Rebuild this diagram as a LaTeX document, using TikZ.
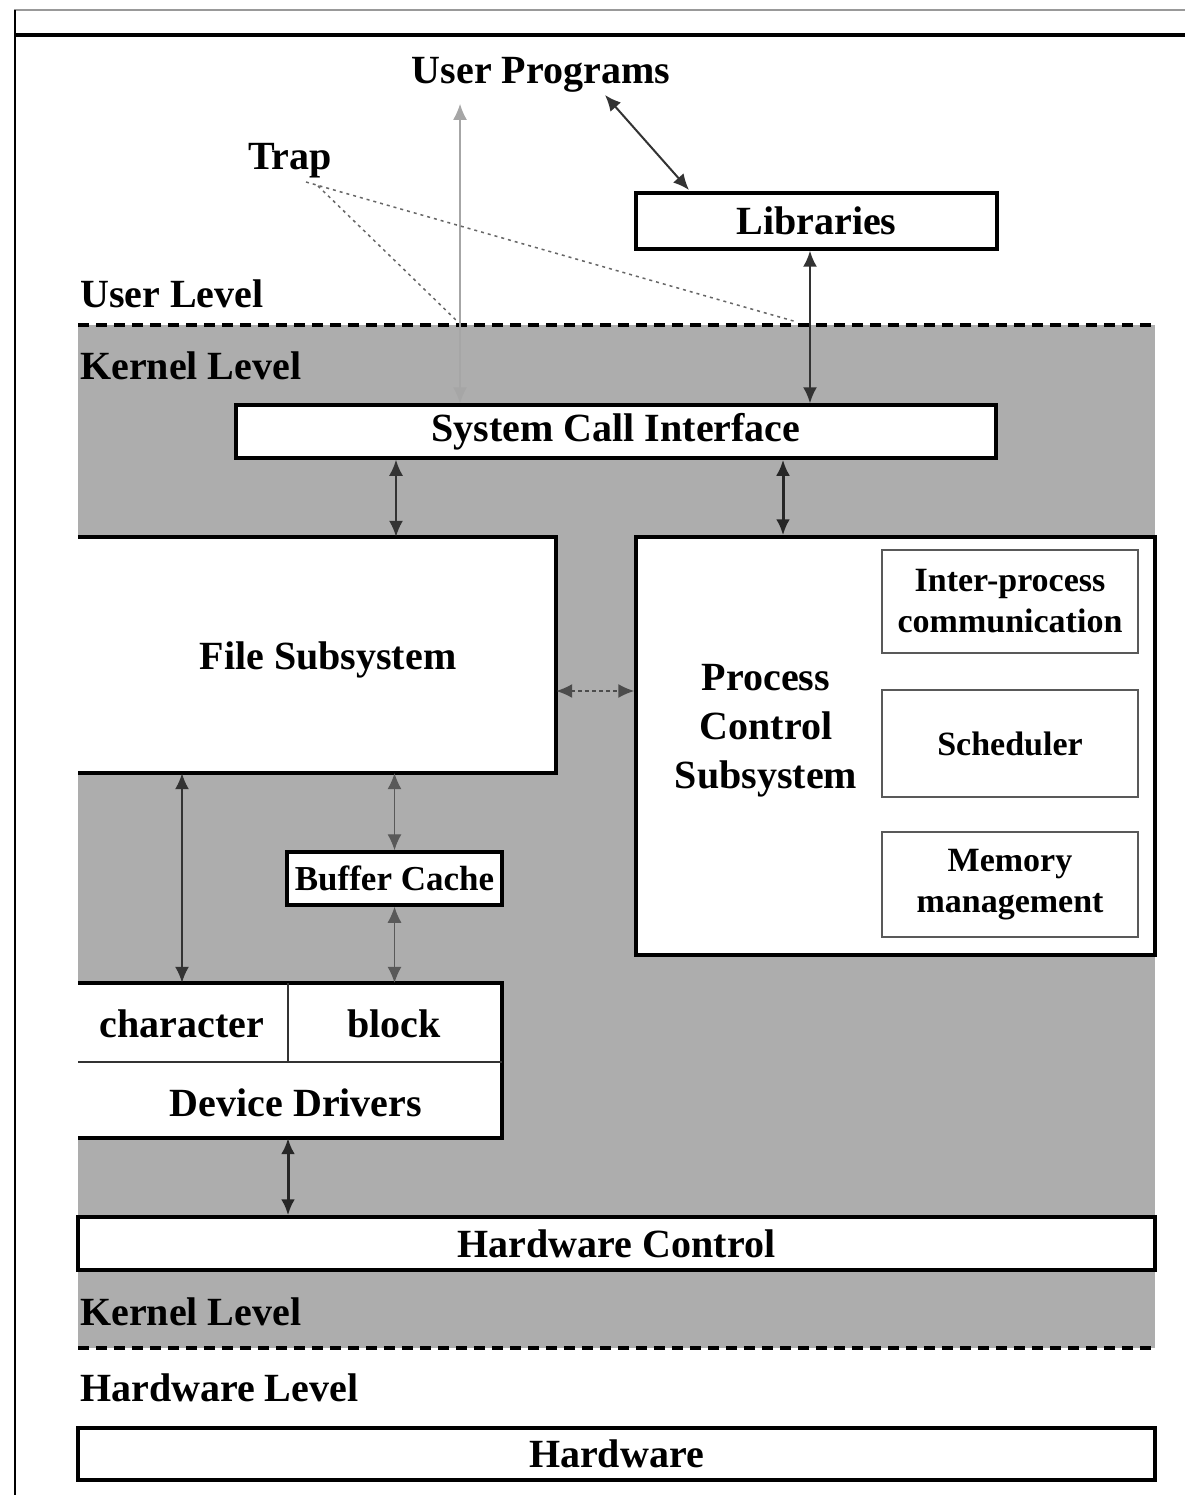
\documentclass[tikz,border=0pt]{standalone}
\usepackage{fontspec}
\setmainfont{Liberation Serif}
\usetikzlibrary{arrows.meta}
\definecolor{kgray}{gray}{0.68}
\tikzset{
  box/.style={draw=black, fill=white, line width=3.5pt, inner sep=0pt, font=\bfseries\fontsize{40}{46}\selectfont},
  openbox/.style={fill=white, inner sep=0pt, font=\bfseries\fontsize{40}{46}\selectfont},
  inbox/.style={draw=black!65, fill=white, line width=2pt, inner sep=0pt, align=center, font=\bfseries\fontsize{34}{41}\selectfont},
  lbl/.style={inner sep=0pt, font=\bfseries\fontsize{40}{46}\selectfont},
  tip/.style={{Latex[length=16pt,width=14pt]}-{Latex[length=16pt,width=14pt]}},
  conn/.style={tip, line width=2pt, black!80},
  thickconn/.style={tip, line width=3pt, black!85},
  thinconn/.style={tip, line width=1.2pt, black!65},
  levelline/.style={line width=3.5pt, dash pattern=on 11pt off 7pt},
  trapline/.style={line width=1.5pt, black!60, dash pattern=on 3pt off 4pt}
}
\begin{document}
\begin{tikzpicture}[x=1pt,y=-1pt]
\useasboundingbox (0,0) rectangle (1185,1495);
% frame lines
\draw[black!40, line width=1.2pt] (14,10) -- (1185,10);
\draw[line width=4pt] (14,35) -- (1185,35);
\draw[line width=2pt] (15,10) -- (15,1495);
% kernel area
\fill[kgray] (78,325) rectangle (1155,1348);
\draw[levelline] (78,325) -- (1155,325);
\draw[levelline] (78,1348) -- (1155,1348);
% labels
\node[lbl] (up) at (541,75) {User Programs};
\node[lbl] (trap) at (290,161) {Trap};
\node[lbl, anchor=west] (ul) at (80,294) {User Level};
\node[lbl, anchor=west] (kl1) at (80,366) {Kernel Level};
\node[lbl, anchor=west] (kl2) at (80,1312) {Kernel Level};
\node[lbl, anchor=west] (hl) at (80,1388) {Hardware Level};
% boxes
\node[box, minimum width=361pt, minimum height=56pt] (lib) at (816.5,221) {Libraries};
\node[box, minimum width=760pt, minimum height=53pt] (sci) at (616,431.5) {System Call Interface};
\node[openbox, minimum width=478pt, minimum height=236pt] (fs) at (317,655) {};
\node[lbl] (fst) at (328,660) {File Subsystem};
\draw[line width=3.5pt] (fs.north west) -- (fs.north east) -- (fs.south east) -- (fs.south west);
\node[box, minimum width=519pt, minimum height=418pt] (pcs) at (895.5,746) {};
\node[lbl, align=center, font=\bfseries\fontsize{40}{49}\selectfont] (pct) at (766,731) {Process\\Control\\Subsystem};
\node[inbox, minimum width=256pt, minimum height=103pt] (ipc) at (1010,601.5) {Inter-process\\communication};
\node[inbox, minimum width=256pt, minimum height=107pt] (sch) at (1010,743.5) {Scheduler};
\node[inbox, minimum width=256pt, minimum height=105pt] (mem) at (1010,884.5) {Memory\\management};
\node[box, minimum width=215pt, minimum height=53pt, font=\bfseries\fontsize{35}{40}\selectfont] (bc) at (394.5,878.5) {Buffer Cache};
\node[openbox, minimum width=424pt, minimum height=155pt] (dd) at (290,1060.5) {};
\draw[line width=3.5pt] (dd.north west) -- (dd.north east) -- (dd.south east) -- (dd.south west);
\draw[line width=2.5pt, black!80] (78,1062) -- (502,1062);
\draw[line width=2.5pt, black!80] (288,983) -- (288,1062);
\node[lbl] (chr) at (182,1024) {character};
\node[lbl] (blk) at (394,1024) {block};
\node[lbl] (ddt) at (296,1103) {Device Drivers};
\node[box, minimum width=1077pt, minimum height=53pt] (hc) at (616.5,1243.5) {Hardware Control};
\node[box, minimum width=1077pt, minimum height=52pt] (hw) at (616.5,1454) {Hardware};
% helper coordinates
\coordinate (x810) at (810,0);
\coordinate (x396) at (396,0);
\coordinate (x783) at (783,0);
\coordinate (x182) at (182,0);
\coordinate (x288) at (288,0);
\coordinate (y691) at (0,691);
\coordinate (upt) at (460,104);
\coordinate (upr) at (605,95);
\coordinate (libt) at (689,190);
\coordinate (trs1) at (318,186);
\coordinate (trs2) at (306,182);
\coordinate (tre1) at (458,322);
\coordinate (tre2) at (797,322);
% connectors
\draw[tip, line width=1.2pt, black!35] (upt) -- (upt |- sci.north);
\draw[conn] (upr) -- (libt);
\draw[trapline] (trs1) -- (tre1);
\draw[trapline] (trs2) -- (tre2);
\draw[conn] (lib.south -| x810) -- (sci.north -| x810);
\draw[conn] (sci.south -| x396) -- (fs.north -| x396);
\draw[thickconn] (sci.south -| x783) -- (pcs.north -| x783);
\draw[tip, line width=1.5pt, black!70, dash pattern=on 4pt off 3pt] (fs.east |- y691) -- (pcs.west |- y691);
\draw[conn] (fs.south -| x182) -- (dd.north -| x182);
\draw[thinconn] (fs.south -| bc.north) -- (bc.north);
\draw[thinconn] (bc.south) -- (dd.north -| bc.south);
\draw[thickconn] (dd.south -| x288) -- (hc.north -| x288);
\end{tikzpicture}
\end{document}
